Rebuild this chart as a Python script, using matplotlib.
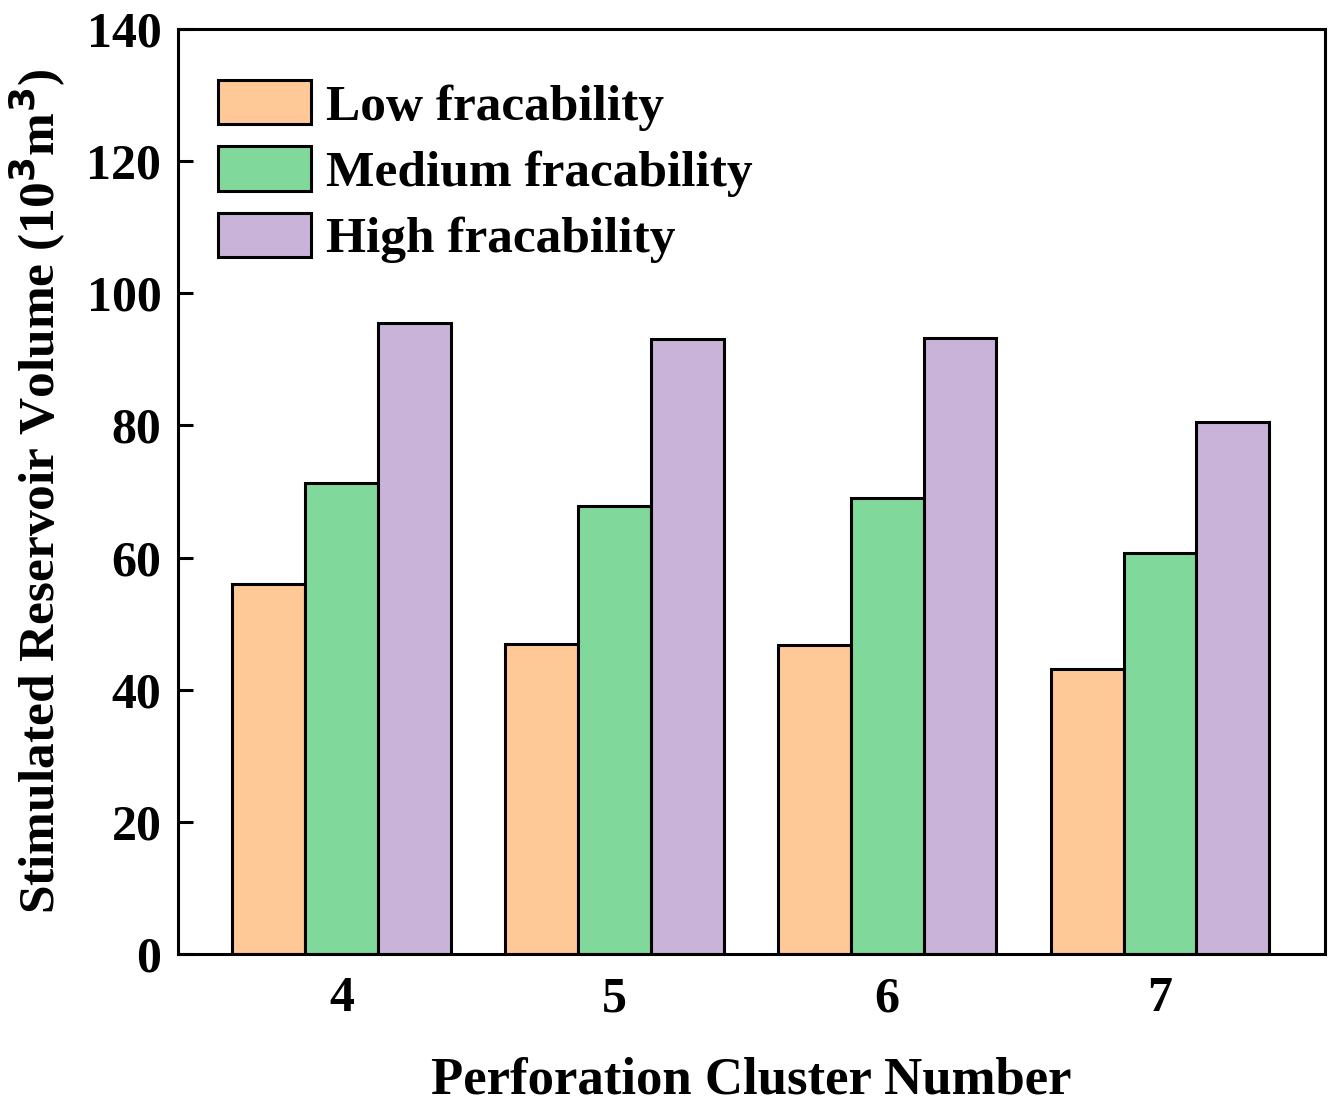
import numpy as np
import matplotlib
matplotlib.use("Agg")
import matplotlib.pyplot as plt

plt.rcParams["font.family"] = "Liberation Serif"
plt.rcParams["font.weight"] = "bold"

# data
clusters = [4, 5, 6, 7]
low = [56.0, 46.9, 46.8, 43.1]
medium = [71.3, 67.8, 69.0, 60.7]
high = [95.5, 93.1, 93.2, 80.5]
labels = ["Low fracability", "Medium fracability", "High fracability"]
colors = ["#FFC896", "#80D99A", "#C9B3D9"]

fig = plt.figure(figsize=(13.4, 11.11), dpi=100)
ax = fig.add_axes([0.1328, 0.1413, 0.856, 0.8326])

x = np.array(clusters, dtype=float)
w = 0.267
for i, (vals, lab, col) in enumerate(zip([low, medium, high], labels, colors)):
    ax.bar(x + (i - 1) * w, vals, width=w, color=col, edgecolor="black",
           linewidth=2.2, label=lab, zorder=2)

ax.set_xlim(3.4, 7.605)
ax.set_ylim(0, 140)
ax.set_xticks(clusters)
ax.set_yticks(range(0, 141, 20))
ax.tick_params(direction="in", length=11, width=2.2, labelsize=36)
ax.tick_params(axis="x", pad=16)
ax.tick_params(axis="y", pad=12)
for s in ax.spines.values():
    s.set_linewidth(2.2)

ax.set_xlabel("Perforation Cluster Number", fontsize=38, fontweight="bold", labelpad=25)
ax.set_ylabel("Stimulated Reservoir Volume (10$^\\mathbf{3}$m$^\\mathbf{3}$)",
              fontsize=37, fontweight="bold", labelpad=13)

ax.legend(loc="upper left", frameon=False, fontsize=37, handlelength=1.8,
          handleheight=0.95, handletextpad=0.3, labelspacing=0.3,
          borderaxespad=0.0, bbox_to_anchor=(0.017, 0.967))

fig.savefig("out.png", dpi=100)
